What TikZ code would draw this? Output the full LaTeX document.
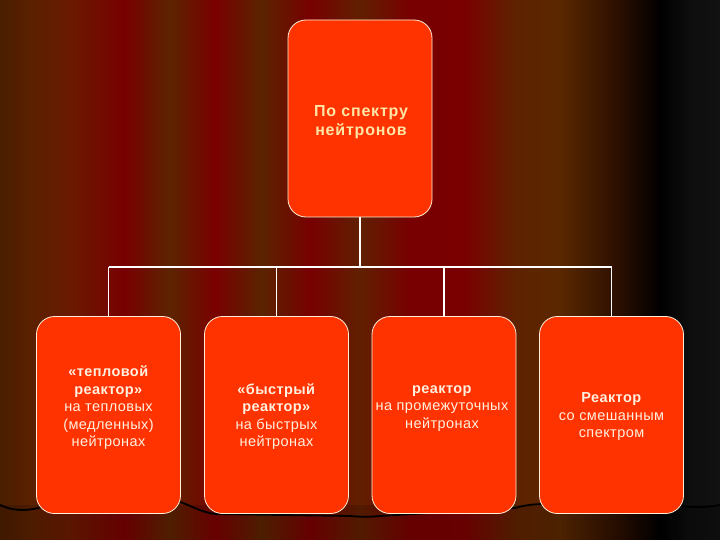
\documentclass[tikz,border=0pt]{standalone}
\usepackage{fontspec}
\setmainfont{Liberation Sans}
\definecolor{c0}{HTML}{4A1E00}
\definecolor{c1}{HTML}{5A2000}
\definecolor{c2}{HTML}{6A1A00}
\definecolor{c3}{HTML}{780000}
\definecolor{c4}{HTML}{5C2400}
\definecolor{c5}{HTML}{7A0000}
\definecolor{c6}{HTML}{5A2400}
\definecolor{c7}{HTML}{780000}
\definecolor{c8}{HTML}{602000}
\definecolor{c9}{HTML}{780000}
\definecolor{c10}{HTML}{7A0000}
\definecolor{c11}{HTML}{5E2200}
\definecolor{c12}{HTML}{5A2800}
\definecolor{c13}{HTML}{2A0E00}
\definecolor{c14}{HTML}{000000}
\definecolor{c15}{HTML}{0E0E0E}
\definecolor{c16}{HTML}{111111}
\definecolor{boxfill}{HTML}{FF3300}
\definecolor{boxline}{HTML}{FFEFD8}
\definecolor{toptext}{HTML}{FFE6A6}
\definecolor{bottext}{HTML}{FFF0E0}
\tikzset{
  box/.style={draw=boxline, line width=0.8pt, fill=boxfill, rounded corners=18pt,
    minimum width=144pt, minimum height=197pt, inner sep=0pt},
  conn/.style={draw=white, line width=1.2pt},
  toplabel/.style={align=center, text=toptext, font=\addfontfeatures{LetterSpace=5}\bfseries\fontsize{16}{19}\selectfont},
  botlabel/.style={align=center, text=bottext, font=\addfontfeatures{LetterSpace=3}\fontsize{14.5}{17.5}\selectfont},
}
\begin{document}
\begin{tikzpicture}[x=1pt,y=-1pt]
\useasboundingbox (0,0) rectangle (720,540);
% curtain background
\foreach \xa/\ca/\xb/\cb in {0/c0/30/c1,30/c1/70/c2,70/c2/125/c3,125/c3/170/c4,170/c4/215/c5,215/c5/262/c6,262/c6/310/c7,310/c7/360/c8,360/c8/410/c9,410/c9/464/c10,464/c10/514/c11,514/c11/560/c12,560/c12/620/c13,620/c13/660/c14,660/c14/690/c15,690/c15/720/c16}{
  \shade[left color=\ca, right color=\cb] (\xa-0.3,0) rectangle (\xb+0.3,540);
}
\fill[black, opacity=0.15] (0,505) rectangle (720,540);
\draw[black, line width=1.8pt] (0,505) .. controls (15,512) and (30,511) .. (45,506)
  -- (180,502) .. controls (190,505) and (200,512) .. (215,514)
  -- (350,516) .. controls (360,517) and (370,517) .. (380,516)
  -- (515,508) .. controls (525,505) and (535,504) .. (545,504)
  -- (683,506) .. controls (695,508) and (710,507) .. (720,505);
% boxes
\node[box] (top) at (360,118.5) {};
\node[box] (b1) at (108.5,415) {};
\node[box] (b2) at (276.5,415) {};
\node[box] (b3) at (444,415) {};
\node[box] (b4) at (611.5,415) {};
% texts
\node[toplabel] (tt) at (361,122) {По спектру\\ нейтронов};
\node[botlabel] (t1) at (108.5,408) {\textbf{«тепловой}\\\textbf{реактор»}\\на тепловых\\(медленных)\\нейтронах};
\node[botlabel] (t2) at (276.5,416.5) {\textbf{«быстрый}\\\textbf{реактор»}\\на быстрых\\нейтронах};
\node[botlabel] (t3) at (442,408.5) {\textbf{реактор}\\на промежуточных\\нейтронах};
\node[botlabel] (t4) at (611.5,417) {\textbf{Реактор}\\со смешанным\\спектром};
% connectors
\coordinate (hub) at (360,267);
\coordinate (hl) at (108.5,267);
\coordinate (hr) at (611.5,267);
\coordinate (h2) at (276.5,267);
\coordinate (h3) at (444,267);
\draw[conn] (top.south) -- (hub);
\draw[conn] (hl) -- (hr);
\draw[conn] (hl) -- (b1.north);
\draw[conn] (h2) -- (b2.north);
\draw[conn] (h3) -- (b3.north);
\draw[conn] (hr) -- (b4.north);
\end{tikzpicture}
\end{document}
